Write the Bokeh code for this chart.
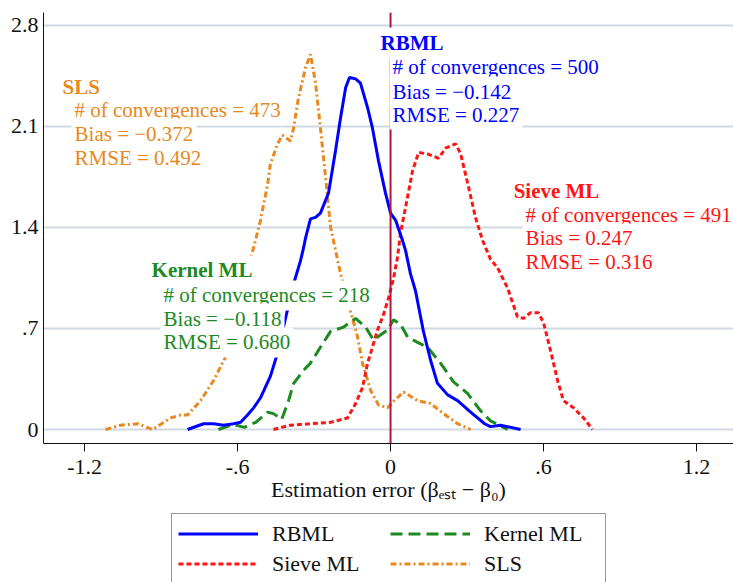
from bokeh.plotting import figure
from bokeh.layouts import column
from bokeh.models import (Range1d, FixedTicker, CustomJSTickFormatter, Span, Label,
                          Legend, LegendItem)
from bokeh.embed import file_html
from bokeh.resources import INLINE

# ---------------- data ----------------
x_ticks = [-1.2, -0.6, 0.0, 0.6, 1.2]
y_ticks = [0.0, 0.7, 1.4, 2.1, 2.8]

rbml_x = [-0.796, -0.733, -0.694, -0.655, -0.616, -0.588, -0.561, -0.537, -0.510, -0.471,
          -0.443, -0.412, -0.380, -0.353, -0.341, -0.333, -0.314, -0.294, -0.275, -0.243,
          -0.216, -0.196, -0.176, -0.161, -0.137, -0.118, -0.090, -0.071, -0.047, -0.020,
          0.000, 0.020, 0.047, 0.059, 0.078, 0.098, 0.129, 0.157, 0.184, 0.224,
          0.263, 0.314, 0.369, 0.392, 0.431, 0.510]
rbml_y = [0.00, 0.04, 0.04, 0.03, 0.04, 0.05, 0.10, 0.15, 0.22, 0.37,
          0.53, 0.77, 1.01, 1.17, 1.26, 1.33, 1.46, 1.47, 1.50, 1.64,
          1.93, 2.16, 2.37, 2.44, 2.43, 2.40, 2.23, 2.09, 1.86, 1.64,
          1.50, 1.45, 1.31, 1.24, 1.08, 0.96, 0.68, 0.48, 0.32, 0.24,
          0.20, 0.12, 0.04, 0.02, 0.03, 0.00]

kernel_x = [-0.675, -0.616, -0.573, -0.529, -0.482, -0.459, -0.427, -0.400, -0.380, -0.341,
            -0.314, -0.275, -0.235, -0.184, -0.137, -0.098, -0.067, -0.012, 0.012, 0.039,
            0.067, 0.110, 0.145, 0.196, 0.247, 0.302, 0.353, 0.392, 0.459]
kernel_y = [0.00, 0.035, 0.015, 0.05, 0.12, 0.11, 0.07, 0.20, 0.32, 0.41,
            0.46, 0.57, 0.68, 0.71, 0.77, 0.71, 0.62, 0.69, 0.76, 0.73,
            0.64, 0.60, 0.57, 0.46, 0.33, 0.25, 0.13, 0.06, 0.00]

sieve_x = [-0.459, -0.392, -0.314, -0.235, -0.169, -0.137, -0.110, -0.090, -0.071, -0.051,
           -0.027, -0.008, 0.012, 0.027, 0.039, 0.059, 0.086, 0.110, 0.145, 0.188,
           0.216, 0.255, 0.275, 0.306, 0.333, 0.361, 0.392, 0.420, 0.459, 0.498,
           0.522, 0.549, 0.580, 0.600, 0.627, 0.655, 0.678, 0.718, 0.757, 0.792]
sieve_y = [0.00, 0.03, 0.04, 0.05, 0.08, 0.18, 0.29, 0.46, 0.57, 0.69,
           0.80, 0.91, 1.05, 1.19, 1.36, 1.54, 1.79, 1.92, 1.91, 1.88,
           1.95, 1.98, 1.91, 1.68, 1.47, 1.31, 1.18, 1.12, 0.98, 0.78,
           0.77, 0.81, 0.81, 0.74, 0.55, 0.34, 0.20, 0.15, 0.08, 0.00]

sls_x = [-1.118, -1.059, -0.992, -0.933, -0.863, -0.824, -0.796, -0.745, -0.694, -0.639,
         -0.616, -0.576, -0.537, -0.510, -0.482, -0.471, -0.443, -0.424, -0.392, -0.380,
         -0.361, -0.333, -0.314, -0.294, -0.275, -0.255, -0.235, -0.196, -0.157, -0.129,
         -0.110, -0.078, -0.047, -0.012, 0.008, 0.051, 0.106, 0.157, 0.208, 0.263, 0.314]
sls_y = [0.00, 0.03, 0.04, 0.00, 0.08, 0.10, 0.10, 0.20, 0.34, 0.53,
         0.69, 1.01, 1.26, 1.45, 1.70, 1.84, 1.98, 2.04, 2.00, 2.09,
         2.30, 2.51, 2.60, 2.40, 2.09, 1.75, 1.40, 1.08, 0.82, 0.64,
         0.46, 0.27, 0.17, 0.15, 0.19, 0.26, 0.20, 0.18, 0.11, 0.04, 0.00]

series_names = ["RBML", "Kernel ML", "Sieve ML", "SLS"]

rbml_text = ["RBML", "# of convergences = 500", "Bias = \u22120.142", "RMSE = 0.227"]
kernel_text = ["Kernel ML", "# of convergences = 218", "Bias = \u22120.118", "RMSE = 0.680"]
sieve_text = ["Sieve ML", "# of convergences = 491", "Bias = 0.247", "RMSE = 0.316"]
sls_text = ["SLS", "# of convergences = 473", "Bias = \u22120.372", "RMSE = 0.492"]

x_label = "Estimation error (\u03b2\u2091\u209b\u209c \u2212 \u03b2\u2080)"

# ---------------- styling ----------------
FONT = "Liberation Serif"
BLUE = "#0000ff"
GREEN = "#1c8a1f"
RED = "#ff1414"
ORANGE = "#e8881e"
GRID = "#cfd9e4"

STYLES = {
    "RBML": dict(line_color=BLUE, line_width=3),
    "Kernel ML": dict(line_color=GREEN, line_width=3, line_dash="12 6"),
    "Sieve ML": dict(line_color=RED, line_width=3, line_dash="5 3"),
    "SLS": dict(line_color=ORANGE, line_width=3, line_dash="6 3 2 3"),
}
SERIES = {
    "RBML": (rbml_x, rbml_y),
    "Kernel ML": (kernel_x, kernel_y),
    "Sieve ML": (sieve_x, sieve_y),
    "SLS": (sls_x, sls_y),
}

p = figure(width=733, height=510, output_backend="svg", toolbar_location=None,
           x_range=Range1d(-1.361, 1.345), y_range=Range1d(-0.097, 2.890),
           min_border_left=43, min_border_right=0, min_border_top=12,
           min_border_bottom=67)
p.outline_line_color = None
p.background_fill_color = "white"
p.border_fill_color = "white"
p.xgrid.visible = False
p.ygrid.grid_line_color = GRID
p.ygrid.grid_line_width = 2

fmt = CustomJSTickFormatter(code="""
if (Math.abs(tick) < 1e-9) { return "0"; }
return tick.toFixed(1).replace(/^(-?)0\\./, "$1.");
""")

xa = p.xaxis[0]
xa.ticker = FixedTicker(ticks=x_ticks)
xa.formatter = fmt
xa.axis_line_color = "#111111"
xa.axis_line_width = 1
xa.major_tick_line_color = "#111111"
xa.major_tick_out = 8
xa.major_tick_in = 0
xa.minor_tick_out = 0
xa.minor_tick_in = 0
xa.major_label_text_font = FONT
xa.major_label_text_font_size = "22px"
xa.major_label_text_color = "#111111"
xa.major_label_standoff = 8
xa.axis_label = x_label
xa.axis_label_text_font = FONT
xa.axis_label_text_font_size = "22px"
xa.axis_label_text_font_style = "normal"
xa.axis_label_text_color = "#111111"
xa.axis_label_standoff = 0

ya = p.yaxis[0]
ya.ticker = FixedTicker(ticks=y_ticks)
ya.formatter = fmt
ya.axis_line_color = "#111111"
ya.axis_line_width = 1
ya.major_tick_out = 0
ya.major_tick_in = 0
ya.minor_tick_out = 0
ya.minor_tick_in = 0
ya.major_label_text_font = FONT
ya.major_label_text_font_size = "22px"
ya.major_label_text_color = "#111111"
ya.major_label_standoff = 5
p.ygrid.ticker = FixedTicker(ticks=y_ticks)

for name in ["SLS", "Sieve ML", "Kernel ML", "RBML"]:
    xs, ys = SERIES[name]
    p.line(xs, ys, **STYLES[name])

p.add_layout(Span(location=0, dimension="height", line_color="#b0163c", line_width=2))

def block(lines, color, x_title, ys):
    for i, (t, y) in enumerate(zip(lines, ys)):
        lab = Label(x=x_title if i == 0 else x_title + 0.047, y=y, x_units="data", y_units="data",
                    text=t, text_font=FONT, text_font_size="21px",
                    text_font_style="bold" if i == 0 else "normal",
                    text_color=color, text_baseline="middle", text_align="left",
                    background_fill_color="white", background_fill_alpha=1.0,
                    padding=3)
        p.add_layout(lab)

block(sls_text, ORANGE, -1.298, [2.377, 2.211, 2.051, 1.885])
block(rbml_text, BLUE, -0.051, [2.682, 2.509, 2.342, 2.183])
block(sieve_text, RED, 0.471, [1.656, 1.490, 1.324, 1.164])
block(kernel_text, GREEN, -0.949, [1.102, 0.929, 0.769, 0.603])

# ---------------- legend strip (separate figure below the plot) ----------------
# The same series are drawn here, but outside this strip's visible range,
# so only the legend shows.
pl = figure(width=733, height=72, output_backend="svg", toolbar_location=None,
            x_range=Range1d(10, 11), y_range=Range1d(10, 11),
            min_border_left=0, min_border_right=0, min_border_top=0, min_border_bottom=0)
pl.axis.visible = False
pl.grid.visible = False
pl.outline_line_color = None
pl.background_fill_color = "white"
pl.border_fill_color = "white"

items = []
for name in series_names:
    xs, ys = SERIES[name]
    r = pl.line(xs, ys, **STYLES[name])
    items.append(LegendItem(label=name, renderers=[r]))

legend = Legend(items=items, orientation="horizontal", ncols=2, location=(128, -2))
legend.label_text_font = FONT
legend.label_text_font_size = "22px"
legend.label_text_color = "#111111"
legend.glyph_width = 80
legend.glyph_height = 27
legend.label_height = 27
legend.label_width = 115
legend.label_standoff = 14
legend.spacing = 3
legend.padding = 6
legend.margin = 0
legend.border_line_color = "#333333"
legend.border_line_width = 1
legend.background_fill_color = "white"
legend.background_fill_alpha = 1.0
pl.add_layout(legend, "center")

layout = column(p, pl, spacing=0)
open("out.html", "w").write(file_html(layout, INLINE))
